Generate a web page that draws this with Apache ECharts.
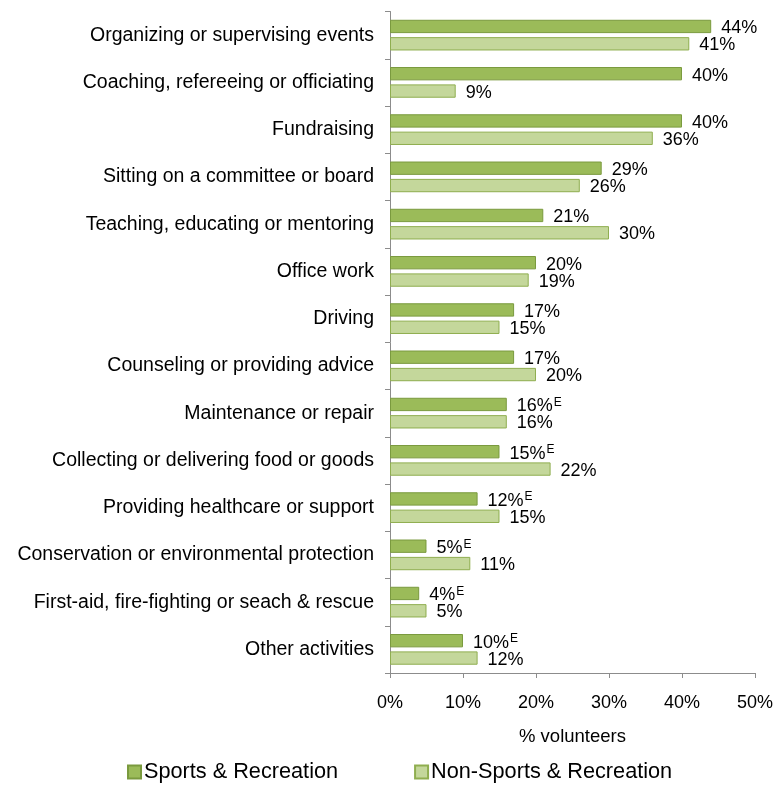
<!DOCTYPE html>
<html>
<head>
<meta charset="utf-8">
<script src="https://cdn.jsdelivr.net/npm/echarts@6/dist/echarts.min.js"></script>
<style>
  html, body { margin: 0; padding: 0; background: #fff; }
  #chart { width: 776px; height: 787px; }
</style>
</head>
<body>
<div id="chart"></div>
<script>
// Volunteer activity categories (top to bottom)
const categories = [
  'Organizing or supervising events',
  'Coaching, refereeing or officiating',
  'Fundraising',
  'Sitting on a committee or board',
  'Teaching, educating or mentoring',
  'Office work',
  'Driving',
  'Counseling or providing advice',
  'Maintenance or repair',
  'Collecting or delivering food or goods',
  'Providing healthcare or support',
  'Conservation or environmental protection',
  'First-aid, fire-fighting or seach & rescue',
  'Other activities'
];

// Share of volunteers (%) doing each activity
const sportsValues = [44, 40, 40, 29, 21, 20, 17, 17, 16, 15, 12, 5, 4, 10];
const nonSportsValues = [41, 9, 36, 26, 30, 19, 15, 20, 16, 22, 15, 11, 5, 12];

// Estimates flagged "E" (use with caution)
const sportsEstimateFlag = [false, false, false, false, false, false, false, false, true, true, true, true, true, true];

const xTicks = [0, 10, 20, 30, 40, 50];

const seriesNames = ['Sports & Recreation', 'Non-Sports & Recreation'];

const chart = echarts.init(document.getElementById('chart'));

const FONT = '"Liberation Sans", Arial, sans-serif';
const axisGray = '#8c8c8c';

chart.setOption({
  animation: false,
  textStyle: { fontFamily: FONT },
  grid: { left: 390, right: 17, top: 11.5, bottom: 114, containLabel: false },
  legend: {
    data: seriesNames,
    top: 761,
    left: 127,
    padding: 0,
    itemGap: 76,
    itemWidth: 13,
    itemHeight: 13,
    icon: 'rect',
    textStyle: { fontSize: 21.7, color: '#000', fontFamily: FONT, padding: [0, 0, 0, -2] }
  },
  xAxis: {
    type: 'value',
    min: xTicks[0],
    max: xTicks[xTicks.length - 1],
    interval: 10,
    name: '% volunteers',
    nameLocation: 'middle',
    nameGap: 54,
    nameTextStyle: { fontSize: 18.5, color: '#000', fontFamily: FONT },
    axisLine: { show: true, lineStyle: { color: axisGray, width: 1 } },
    axisTick: { show: true, length: 5, lineStyle: { color: axisGray } },
    splitLine: { show: false },
    axisLabel: { fontSize: 18, color: '#000', margin: 21, formatter: v => v + '%' }
  },
  yAxis: {
    type: 'category',
    inverse: true,
    data: categories,
    axisLine: { show: true, lineStyle: { color: axisGray, width: 1 } },
    axisTick: { show: true, length: 5, lineStyle: { color: axisGray } },
    axisLabel: { fontSize: 19.5, color: '#000', margin: 16 }
  },
  series: [
    {
      name: seriesNames[0],
      type: 'bar',
      data: sportsValues,
      barGap: '30%',
      barCategoryGap: '35%',
      itemStyle: { color: '#9bbb59', borderColor: '#7a9a3e', borderWidth: 1 },
      label: {
        show: true,
        position: 'right',
        distance: 10,
        offset: [0, 2],
        color: '#000',
        formatter: p => sportsEstimateFlag[p.dataIndex] ? '{v|' + p.value + '%}{e|E}' : '{v|' + p.value + '%}',
        rich: {
          v: { fontSize: 18, color: '#000', fontFamily: FONT, lineHeight: 20 },
          e: { fontSize: 12, color: '#000', fontFamily: FONT, verticalAlign: 'top', lineHeight: 20, padding: [0, 0, 7, 1] }
        }
      }
    },
    {
      name: seriesNames[1],
      type: 'bar',
      data: nonSportsValues,
      itemStyle: { color: '#c4d79b', borderColor: '#8fae4f', borderWidth: 1 },
      label: {
        show: true,
        position: 'right',
        distance: 10,
        offset: [0, 1.5],
        fontSize: 18,
        color: '#000',
        fontFamily: FONT,
        formatter: p => p.value + '%'
      }
    }
  ]
});
</script>
</body>
</html>
